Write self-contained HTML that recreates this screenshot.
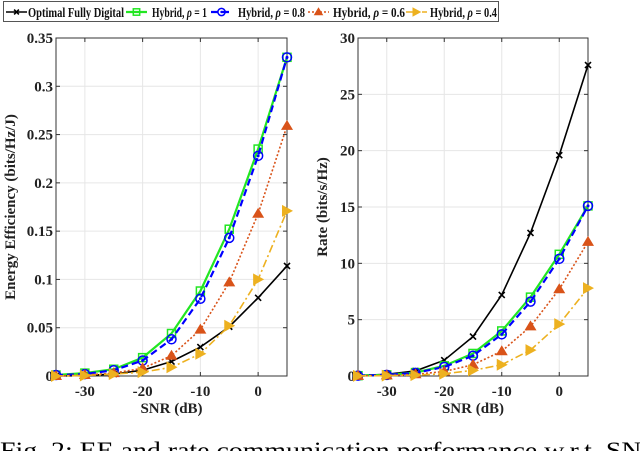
<!DOCTYPE html>
<html><head><meta charset="utf-8"><style>
html,body{margin:0;padding:0;background:#fff;}
body{width:640px;height:451px;overflow:hidden;position:relative;font-family:"Liberation Serif",serif;}
svg text{font-family:"Liberation Serif",serif;}
</style></head><body>
<svg id="fig" width="640" height="451" viewBox="0 0 640 451" xmlns="http://www.w3.org/2000/svg">
<g id="legend">
<rect x="3.5" y="1.5" width="495" height="20" fill="#fff" stroke="#555" stroke-width="1"/>
</g>
<g id="left"></g>
<g id="right"></g>
<text x="0" y="458" font-size="23" textLength="660" lengthAdjust="spacingAndGlyphs">Fig. 2: EE and rate communication performance w.r.t. SNR</text>
</svg>
<script>
const snr = [-35,-30,-25,-20,-15,-10,-5,0,5];
const xTicks = [-30,-20,-10,0];
const eeTicks = [0,0.05,0.1,0.15,0.2,0.25,0.3,0.35];
const eeTickLabels = ["0","0.05","0.1","0.15","0.2","0.25","0.3","0.35"];
const rateTicks = [0,5,10,15,20,25,30];
const rateTickLabels = ["0","5","10","15","20","25","30"];
const eeDigital = [0,0.0005,0.002,0.006,0.015,0.030,0.051,0.081,0.114];
const eeRho1 = [0.001,0.003,0.007,0.019,0.044,0.088,0.152,0.235,0.33];
const eeRho08 = [0.001,0.002,0.006,0.016,0.038,0.080,0.143,0.228,0.33];
const eeRho06 = [0,0.001,0.003,0.008,0.021,0.048,0.097,0.168,0.259];
const eeRho04 = [0,0.0005,0.002,0.004,0.009,0.023,0.052,0.100,0.171];
const rateDigital = [0.05,0.15,0.45,1.4,3.5,7.2,12.7,19.6,27.6];
const rateRho1 = [0.03,0.1,0.3,0.9,2.0,4.0,7.0,10.8,15.1];
const rateRho08 = [0.03,0.1,0.28,0.8,1.8,3.7,6.6,10.4,15.1];
const rateRho06 = [0.01,0.05,0.15,0.4,1.0,2.2,4.4,7.7,11.9];
const rateRho04 = [0.01,0.03,0.08,0.2,0.5,1.0,2.3,4.6,7.8];

const NS="http://www.w3.org/2000/svg";
function mk(tag,attrs,parent){const e=document.createElementNS(NS,tag);for(const k in attrs)e.setAttribute(k,attrs[k]);parent.appendChild(e);return e;}

const styles=[
 {color:"#000",dash:"",marker:"x",w:1.6},
 {color:"#22e622",dash:"",marker:"sq",w:2.2},
 {color:"#0000ff",dash:"7,4",marker:"circ",w:2.2},
 {color:"#d95319",dash:"2,2",marker:"tri",w:1.6},
 {color:"#edb120",dash:"8,3,2,3",marker:"rtri",w:1.6}
];
function marker(g,type,x,y,c,s){
 s=s||1;let m;
 if(type==="x"){m=mk("path",{d:`M${x-3*s},${y-3*s}L${x+3*s},${y+3*s}M${x-3*s},${y+3*s}L${x+3*s},${y-3*s}`,stroke:c,"stroke-width":1.6,fill:"none"},g);}
 else if(type==="sq"){m=mk("rect",{x:x-4*s,y:y-4*s,width:8*s,height:8*s,fill:"none",stroke:c,"stroke-width":1.5},g);}
 else if(type==="circ"){m=mk("g",{},g);mk("circle",{cx:x,cy:y,r:4.5*s,fill:"none",stroke:c,"stroke-width":1.5},m);mk("circle",{cx:x,cy:y,r:1.5*s,fill:c},m);}
 else if(type==="tri"){m=mk("path",{d:`M${x},${y-6*s}L${x+6*s},${y+4*s}L${x-6*s},${y+4*s}Z`,fill:c},g);}
 else {m=mk("path",{d:`M${x+6*s},${y}L${x-5*s},${y-6*s}L${x-5*s},${y+6*s}Z`,fill:c},g);}
 return m;
}
function chart(gid,x0,x1,y0,y1,ymax,ticks,labels,series,ytitle){
 const g=document.getElementById(gid);
 const sx=v=>x0+(v+35)/40*(x1-x0);
 const sy=v=>y1-v/ymax*(y1-y0);
 mk("rect",{x:x0,y:y0,width:x1-x0,height:y1-y0,fill:"#fff"},g);
 xTicks.forEach(t=>{const l=mk("line",{x1:sx(t),x2:sx(t),y1:y0,y2:y1,stroke:"#e6e6e6","stroke-width":1},g);
  });
 ticks.forEach(t=>{const l=mk("line",{x1:x0,x2:x1,y1:sy(t),y2:sy(t),stroke:"#e6e6e6","stroke-width":1},g);
  });
 mk("rect",{x:x0,y:y0,width:x1-x0,height:y1-y0,fill:"none",stroke:"#333","stroke-width":1},g);
 xTicks.forEach(t=>{mk("line",{x1:sx(t),x2:sx(t),y1:y1,y2:y1-4,stroke:"#333"},g);mk("line",{x1:sx(t),x2:sx(t),y1:y0,y2:y0+4,stroke:"#333"},g);
  const tx=mk("text",{x:sx(t),y:y1+20,"text-anchor":"middle","font-size":15,"font-weight":"bold",fill:"#222"},g);tx.textContent=t;
  });
 ticks.forEach((t,i)=>{mk("line",{x1:x0,x2:x0+4,y1:sy(t),y2:sy(t),stroke:"#333"},g);mk("line",{x1:x1,x2:x1-4,y1:sy(t),y2:sy(t),stroke:"#333"},g);
  const tx=mk("text",{x:x0-3,y:sy(t)+5,"text-anchor":"end","font-size":15,"font-weight":"bold",fill:"#222"},g);tx.textContent=labels[i];
  });
 const xt=mk("text",{x:(x0+x1)/2,y:y1+37,"text-anchor":"middle","font-size":15,"font-weight":"bold",fill:"#222"},g);xt.textContent="SNR (dB)";
 
 const yx=x0-(gid==="left"?41:31);
 const yt=mk("text",{x:yx,y:(y0+y1)/2,"text-anchor":"middle","font-size":15,"font-weight":"bold",fill:"#222",transform:`rotate(-90 ${yx} ${(y0+y1)/2})`},g);yt.textContent=ytitle;
 
 series.forEach((s,i)=>{const st=styles[i];
  const p=mk("polyline",{points:s.map((v,j)=>sx(snr[j])+","+sy(v)).join(" "),fill:"none",stroke:st.color,"stroke-width":st.w,"stroke-dasharray":st.dash},g);
  
  s.forEach((v,j)=>{const m=marker(g,st.marker,sx(snr[j]),sy(v),st.color);
   });
 });
}
chart("left",56,287,38,376,0.35,eeTicks,eeTickLabels,[eeDigital,eeRho1,eeRho08,eeRho06,eeRho04],"Energy Efficiency (bits/Hz/J)");
chart("right",358,588,38,376,30,rateTicks,rateTickLabels,[rateDigital,rateRho1,rateRho08,rateRho06,rateRho04],"Rate (bits/s/Hz)");

const legendNames=["Optimal Fully Digital","Hybrid, ρ = 1","Hybrid, ρ = 0.8","Hybrid, ρ = 0.6","Hybrid, ρ = 0.4"];
const legendLineX=[6,126,211,308,406];
const legendTextX=[28,152,238,333,430];
const legendTextW=[96,55,67,72,67];
const lg=document.getElementById("legend");
legendNames.forEach((n,i)=>{const st=styles[i];const x=legendLineX[i];
 const e=mk("g",{},lg);
 
 
 mk("line",{x1:x,x2:x+21,y1:12,y2:12,stroke:st.color,"stroke-width":st.w,"stroke-dasharray":st.dash},e);
 marker(e,st.marker,x+10.5,12,st.color,0.8);
 const t=mk("text",{x:legendTextX[i],y:17,"font-size":13.5,"font-weight":"bold",fill:"#111",textLength:legendTextW[i],lengthAdjust:"spacingAndGlyphs"},e);
 const parts=n.split("ρ");
 if(parts.length>1){t.appendChild(document.createTextNode(parts[0]));const ts=mk("tspan",{"font-style":"italic"},t);ts.textContent="ρ";t.appendChild(document.createTextNode(parts[1]));}
 else t.textContent=n;
});
</script>
</body></html>
